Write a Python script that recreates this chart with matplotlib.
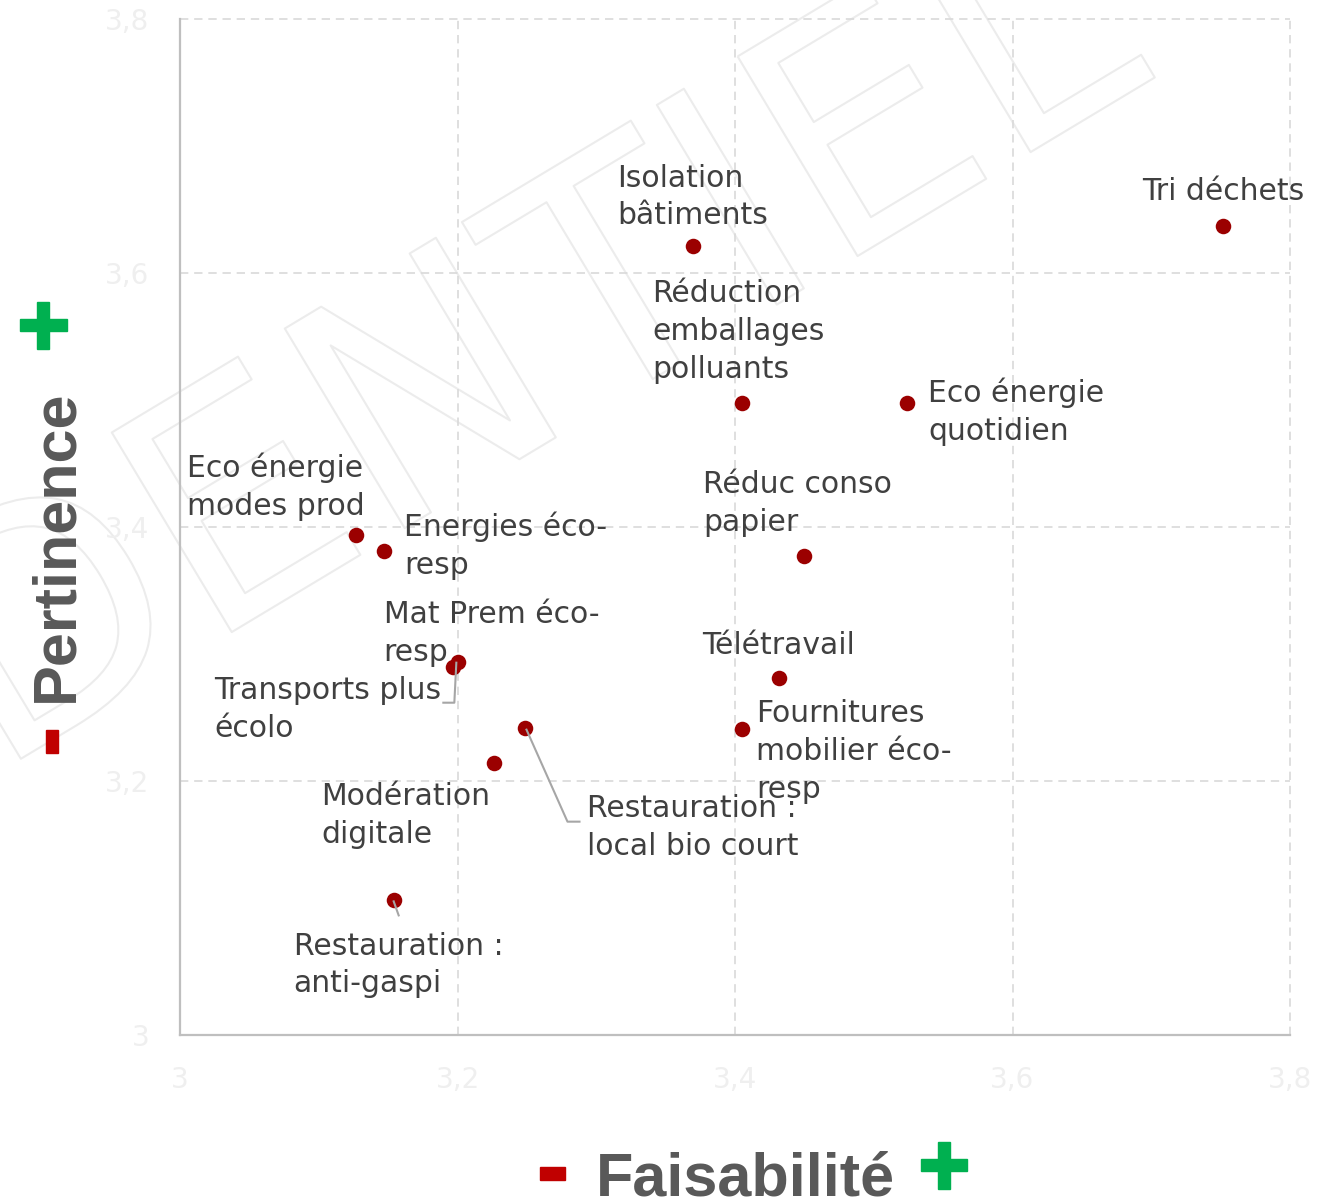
import matplotlib
matplotlib.use("Agg")
import matplotlib.pyplot as plt
import matplotlib.patheffects as pe
from matplotlib.patches import Rectangle
from matplotlib.transforms import IdentityTransform

# ---------------- data ----------------
names = [
    "Tri déchets",
    "Isolation\nbâtiments",
    "Réduction\nemballages\npolluants",
    "Eco énergie\nquotidien",
    "Réduc conso\npapier",
    "Eco énergie\nmodes prod",
    "Energies éco-\nresp",
    "Mat Prem éco-\nresp",
    "Transports plus\nécolo",
    "Télétravail",
    "Fournitures\nmobilier éco-\nresp",
    "Restauration :\nlocal bio court",
    "Modération\ndigitale",
    "Restauration :\nanti-gaspi",
]
faisabilite = [3.752, 3.370, 3.405, 3.524, 3.450, 3.127, 3.147, 3.200, 3.197, 3.432, 3.405, 3.249, 3.226, 3.154]
pertinence = [3.637, 3.621, 3.498, 3.498, 3.377, 3.394, 3.381, 3.294, 3.290, 3.281, 3.241, 3.242, 3.214, 3.106]
tick_values = [3.0, 3.2, 3.4, 3.6, 3.8]
tick_labels = ["3", "3,2", "3,4", "3,6", "3,8"]

# ---------------- layout (pixel offsets of label: left edge, last baseline) ----------------
label_offsets = [(-81, 26), (-76, 22), (-90, 25), (21, -37), (-101, 25), (-169, 20),
                 (20, -23), (-74, 1), (-239, -70), (-77, 24), (14, -69), (62, -127),
                 (-172, -80), (-100, -92)]
leaders = {
    8: [(3, 4), (1, -36), (-10, -36)],
    11: [(1, -2), (42, -94), (54, -94)],
    13: [(0, -1), (5, -15)],
}

W, H = 1334, 1202
DPI = 100
fig = plt.figure(figsize=(W / DPI, H / DPI), dpi=DPI)
fig.patch.set_facecolor("white")

ax_l, ax_r, ax_t, ax_b = 180, 1290, 19, 1035
ax = fig.add_axes([ax_l / W, 1 - ax_b / H, (ax_r - ax_l) / W, (ax_b - ax_t) / H])
ax.set_xlim(3.0, 3.8)
ax.set_ylim(3.0, 3.8)
ax.set_facecolor("none")

for s in ["top", "right"]:
    ax.spines[s].set_visible(False)
for s in ["left", "bottom"]:
    ax.spines[s].set_color("#bfbfbf")
    ax.spines[s].set_linewidth(1.6)

ax.set_xticks(tick_values)
ax.set_xticklabels(tick_labels)
ax.set_yticks(tick_values)
ax.set_yticklabels(tick_labels)
ax.tick_params(length=0, labelsize=20, labelcolor="#efefef", pad=22)

for v in tick_values[1:]:
    ax.axvline(v, color="#d9d9d9", lw=1.2, ls=(0, (5, 3.5)), zorder=1, clip_on=False)
    ax.axhline(v, color="#d9d9d9", lw=1.2, ls=(0, (5, 3.5)), zorder=1, clip_on=False)

# watermark
fig.text(105 / W, 1 - 605 / H, "CONFIDENTIEL", fontsize=230, rotation=31,
         rotation_mode="anchor", ha="center", va="center", color="none",
         family="DejaVu Sans",
         path_effects=[pe.Stroke(linewidth=1.5, foreground="#ececec")], zorder=-1)

ax.scatter(faisabilite, pertinence, s=125, color="#9b0000", zorder=4, linewidths=0)

fig.canvas.draw()
for i, (name, x, y) in enumerate(zip(names, faisabilite, pertinence)):
    dx, dy = label_offsets[i]
    ax.annotate(name, xy=(x, y), xytext=(dx, dy), textcoords="offset pixels",
                ha="left", va="baseline", fontsize=21.5, color="#404040",
                family="DejaVu Sans", linespacing=1.38, zorder=5)
    if i in leaders:
        px, py = ax.transData.transform((x, y))
        xs = [px + a for a, b in leaders[i]]
        ys = [py + b for a, b in leaders[i]]
        ax.plot(xs, ys, color="#a6a6a6", lw=1.5, transform=IdentityTransform(), zorder=5)

def rect_px(x0, y0, x1, y1, color):
    fig.patches.append(Rectangle((x0 / W, 1 - y1 / H), (x1 - x0) / W, (y1 - y0) / H,
                                 transform=fig.transFigure, color=color, zorder=3))

def plus_px(cx, cy, size, thick, color):
    rect_px(cx - size / 2, cy - thick / 2, cx + size / 2, cy + thick / 2, color)
    rect_px(cx - thick / 2, cy - size / 2, cx + thick / 2, cy + size / 2, color)

GREEN = "#00b050"
RED = "#c00000"
TITLE = "#595959"

# x axis title
fig.text(745 / W, 1 - 1196 / H, "Faisabilité", fontsize=44, fontweight="bold",
         color=TITLE, ha="center", va="baseline", family="Liberation Sans")
rect_px(540, 1167, 565, 1180, RED)
plus_px(944, 1165, 47, 12, GREEN)

# y axis title
fig.text(72 / W, 1 - 546 / H, "Pertinence", fontsize=44, fontweight="bold",
         color=TITLE, ha="center", va="baseline", rotation=90, rotation_mode="anchor",
         family="Liberation Sans")
rect_px(46, 730, 58, 753, RED)
plus_px(43, 325, 47, 12, GREEN)

fig.savefig("out.png", dpi=DPI, facecolor="white")
